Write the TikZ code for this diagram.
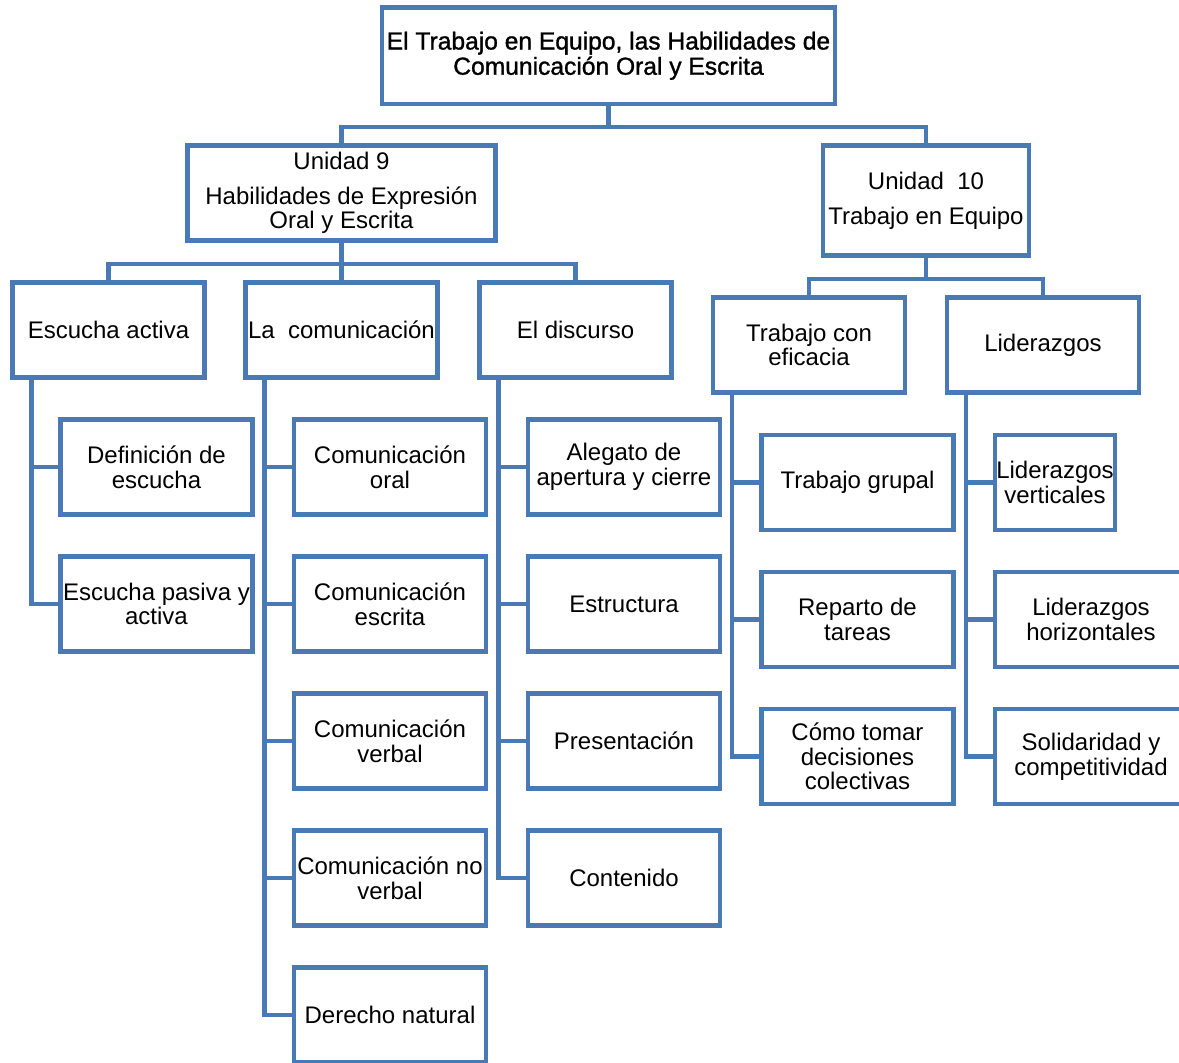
\documentclass[tikz,border=0pt]{standalone}
\usepackage{fontspec}
\setmainfont{Liberation Sans}
\newfontfamily\titlefont[FakeBold=1.2]{Liberation Sans}
\usetikzlibrary{positioning}

\definecolor{boxblue}{HTML}{4A7AB5}
\tikzstyle{titlebox} = [rectangle, draw=boxblue, line width=2.2pt, minimum width=226.5pt, minimum height=48.25pt, inner sep=0pt, align=center, font=\titlefont\fontsize{12.3}{11.6}\selectfont]
\tikzstyle{unitbox} = [rectangle, draw=boxblue, line width=2.2pt, minimum height=47.5pt, inner sep=0pt, align=center, font=\fontsize{12}{12.3}\selectfont]
\tikzstyle{topic} = [rectangle, draw=boxblue, line width=2.2pt, minimum width=96pt, minimum height=47.5pt, inner sep=0pt, align=center, font=\fontsize{12}{12.3}\selectfont]
\tikzstyle{link} = [draw=boxblue, line width=2.2pt]

\begin{document}
\begin{tikzpicture}[x=0.5pt, y=-0.5pt, node distance=68.5pt]
        \useasboundingbox (0,0) rectangle (1179,1062);
        \clip (0,0) rectangle (1179,1062);

        % Nodes
        \node (title) [titlebox] at (608.5,55.75) {El Trabajo en Equipo, las Habilidades de\\Comunicación Oral y Escrita};
        \node (unidadNueve) [unitbox, minimum width=154pt] at (341.5,193) {Unidad 9\\[5pt]Habilidades de Expresión\\Oral y Escrita};
        \node (unidadDiez) [unitbox, minimum width=103pt, minimum height=55pt] at (926,200.5) {Unidad~~10\\[5pt]Trabajo en Equipo};

        \node (escuchaActiva) [topic] at (108.5,330) {Escucha activa};
        \node (laComunicacion) [topic] at (341.5,330) {La~~comunicación};
        \node (elDiscurso) [topic] at (575.5,330) {El discurso};
        \node (trabajoEficacia) [topic] at (809,345) {Trabajo con\\eficacia};
        \node (liderazgos) [topic] at (1043,345) {Liderazgos};

        \node (definicion) [topic] at (156.5,467) {Definición de\\escucha};
        \node (escuchaPasiva) [topic, below of=definicion] {Escucha pasiva y\\activa};

        \node (comOral) [topic] at (390,467) {Comunicación\\oral};
        \node (comEscrita) [topic, below of=comOral] {Comunicación\\escrita};
        \node (comVerbal) [topic, below of=comEscrita] {Comunicación\\verbal};
        \node (comNoVerbal) [topic, below of=comVerbal] {Comunicación no\\verbal};
        \node (derechoNatural) [topic, below of=comNoVerbal] {Derecho natural};

        \node (alegato) [topic] at (624,467) {Alegato de\\apertura y cierre};
        \node (estructura) [topic, below of=alegato] {Estructura};
        \node (presentacion) [topic, below of=estructura] {Presentación};
        \node (contenido) [topic, below of=presentacion] {Contenido};

        \node (trabajoGrupal) [topic] at (857.5,482.5) {Trabajo grupal};
        \node (reparto) [topic, below of=trabajoGrupal] {Reparto de\\tareas};
        \node (decisiones) [topic, below of=reparto] {Cómo tomar\\decisiones\\colectivas};

        \node (lidVerticales) [topic, minimum width=60.25pt] at (1055,482.5) {Liderazgos\\verticales};
        \node (lidHorizontales) [topic] at (1091,619.5) {Liderazgos\\horizontales};
        \node (solidaridad) [topic, below of=lidHorizontales] {Solidaridad y\\competitividad};

        % Connectors
        \draw [link] (title.south) -- ++(0,21) -| (unidadNueve.north);
        \draw [link] (title.south) -- ++(0,21) -| (unidadDiez.north);

        \draw [link] (unidadNueve.south) -- ++(0,21) -| (escuchaActiva.north);
        \draw [link] (unidadNueve.south) -- ++(0,21) -| (laComunicacion.north);
        \draw [link] (unidadNueve.south) -- ++(0,21) -| (elDiscurso.north);
        \draw [link] (unidadDiez.south) -- ++(0,21) -| (trabajoEficacia.north);
        \draw [link] (unidadDiez.south) -- ++(0,21) -| (liderazgos.north);

        \draw [link] (escuchaActiva.south west) ++(21,0) |- (definicion.west);
        \draw [link] (escuchaActiva.south west) ++(21,0) |- (escuchaPasiva.west);

        \draw [link] (laComunicacion.south west) ++(21,0) |- (comOral.west);
        \draw [link] (laComunicacion.south west) ++(21,0) |- (comEscrita.west);
        \draw [link] (laComunicacion.south west) ++(21,0) |- (comVerbal.west);
        \draw [link] (laComunicacion.south west) ++(21,0) |- (comNoVerbal.west);
        \draw [link] (laComunicacion.south west) ++(21,0) |- (derechoNatural.west);

        \draw [link] (elDiscurso.south west) ++(21,0) |- (alegato.west);
        \draw [link] (elDiscurso.south west) ++(21,0) |- (estructura.west);
        \draw [link] (elDiscurso.south west) ++(21,0) |- (presentacion.west);
        \draw [link] (elDiscurso.south west) ++(21,0) |- (contenido.west);

        \draw [link] (trabajoEficacia.south west) ++(21,0) |- (trabajoGrupal.west);
        \draw [link] (trabajoEficacia.south west) ++(21,0) |- (reparto.west);
        \draw [link] (trabajoEficacia.south west) ++(21,0) |- (decisiones.west);

        \draw [link] (liderazgos.south west) ++(21,0) |- (lidVerticales.west);
        \draw [link] (liderazgos.south west) ++(21,0) |- (lidHorizontales.west);
        \draw [link] (liderazgos.south west) ++(21,0) |- (solidaridad.west);
    \end{tikzpicture}
\end{document}
